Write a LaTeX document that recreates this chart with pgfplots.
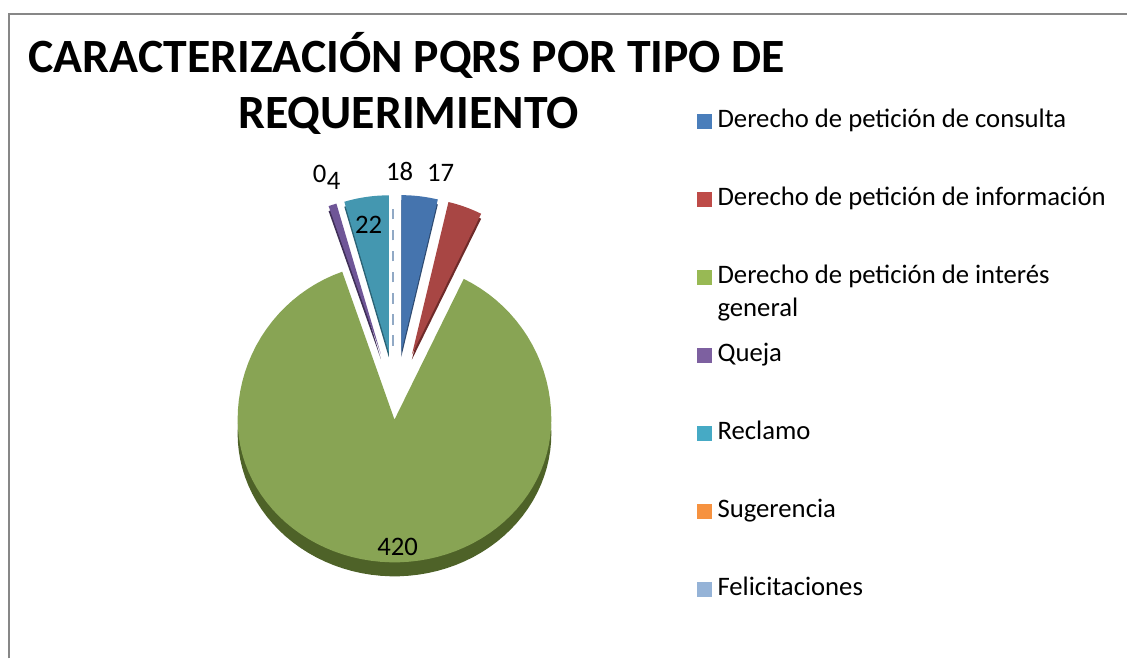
\documentclass[border=0pt]{standalone}
\usepackage{pgfplots}
\pgfplotsset{compat=1.18}
\usepackage{pgfplotstable}
\usepackage{fontspec}
\setmainfont{Carlito}

\definecolor{lBlue}{HTML}{4A7EBB}
\definecolor{lRed}{HTML}{BE4B48}
\definecolor{lGreen}{HTML}{98B954}
\definecolor{lPurple}{HTML}{7D60A0}
\definecolor{lAqua}{HTML}{46AAC5}
\definecolor{lOrange}{HTML}{F69240}
\definecolor{lLight}{HTML}{95B3D7}
\definecolor{fBlue}{HTML}{4574AE}
\definecolor{fRed}{HTML}{A84644}
\definecolor{fGreen}{HTML}{88A454}
\definecolor{fPurple}{HTML}{6F5697}
\definecolor{fAqua}{HTML}{4497B0}
\definecolor{sBlue}{HTML}{2E4A70}
\definecolor{sRed}{HTML}{6E2B2A}
\definecolor{sGreen}{HTML}{4E6228}
\definecolor{sPurple}{HTML}{3F2F57}
\definecolor{sAqua}{HTML}{2B6274}
\definecolor{frameGray}{HTML}{878787}

\pgfplotstableread{
cat value
1 18
2 17
3 420
4 4
5 22
6 0
7 0
}\piedata

% start angle, end angle, explode, colour, downward shift
\newcommand\pieslice[5]{%
  \pgfmathsetmacro\pmid{(#1+#2)/2}%
  \pgfmathsetmacro\pcx{396+#3*sin(\pmid)}%
  \pgfmathsetmacro\pcy{400-#3*cos(\pmid)+#5}%
  \edef\pietemp{\noexpand\addplot[fill=#4,draw=none,forget plot,domain=#1:#2,samples=90,variable=\noexpand\t]
    ({\pcx+157*sin(\noexpand\t)},{\pcy-157*cos(\noexpand\t)*((cos(\noexpand\t)>0)?1:0.91)}) -- (axis cs:\pcx,\pcy) -- cycle;}%
  \pietemp}

\begin{document}
\begin{tikzpicture}
\pgfplotstablegetelem{0}{value}\of\piedata \edef\vA{\pgfplotsretval}
\pgfplotstablegetelem{1}{value}\of\piedata \edef\vB{\pgfplotsretval}
\pgfplotstablegetelem{2}{value}\of\piedata \edef\vC{\pgfplotsretval}
\pgfplotstablegetelem{3}{value}\of\piedata \edef\vD{\pgfplotsretval}
\pgfplotstablegetelem{4}{value}\of\piedata \edef\vE{\pgfplotsretval}
\pgfplotstablegetelem{5}{value}\of\piedata \edef\vF{\pgfplotsretval}
\pgfplotstablegetelem{6}{value}\of\piedata \edef\vG{\pgfplotsretval}
\pgfmathsetmacro\tot{\vA+\vB+\vC+\vD+\vE+\vF+\vG}
\pgfmathsetmacro\bA{0}
\pgfmathsetmacro\bB{\vA/\tot*360}
\pgfmathsetmacro\bC{(\vA+\vB)/\tot*360}
\pgfmathsetmacro\bD{(\vA+\vB+\vC)/\tot*360}
\pgfmathsetmacro\bE{(\vA+\vB+\vC+\vD)/\tot*360}
\pgfmathsetmacro\bF{(\vA+\vB+\vC+\vD+\vE)/\tot*360}
\begin{axis}[
  width=11.28cm, height=6.59cm, scale only axis,
  xmin=0, xmax=1128, ymin=0, ymax=659, y dir=reverse,
  axis lines=none, clip=false,
  legend image code/.code={\fill[#1,draw=none] (0cm,-0.075cm) rectangle (0.15cm,0.075cm);},
  legend cell align=left,
  legend style={at={(axis cs:697,110)}, anchor=north west, draw=none, fill=none,
    inner sep=0pt, row sep=0.56cm, column sep=0.055cm,
    nodes={inner sep=0pt, text height=0.17cm, text depth=0.05cm},
    font=\fontsize{7.6}{9}\selectfont},
]
\path (axis cs:0,0) rectangle (axis cs:1128,659);
% sides (3D depth)
\pieslice{\bC}{\bD}{20}{sGreen}{14}
\pieslice{\bC}{\bD}{20}{fGreen}{0}
\pieslice{\bA}{\bB}{48}{sBlue}{5}
\pieslice{\bB}{\bC}{48}{sRed}{5}
\pieslice{\bD}{\bE}{48}{sPurple}{5}
\pieslice{\bE}{\bF}{48}{sAqua}{5}
\pieslice{\bA}{\bB}{48}{fBlue}{0}
\pieslice{\bB}{\bC}{48}{fRed}{0}
\pieslice{\bD}{\bE}{48}{fPurple}{0}
\pieslice{\bE}{\bF}{48}{fAqua}{0}
% zero-size slices (Sugerencia, Felicitaciones) drawn as a dashed edge
\pgfmathsetmacro\zx{396+48*sin(\bF)-3}
\pgfmathsetmacro\zy{400-48*cos(\bF)-6}
\pgfmathsetmacro\zxx{\zx+157*sin(\bF)}
\pgfmathsetmacro\zyy{\zy-157*cos(\bF)+12}
\edef\pietemp{\noexpand\addplot[draw=lLight!80!gray, dashed, line width=0.6pt, forget plot] coordinates {(\zx,\zy) (\zxx,\zyy)};}
\pietemp

\addlegendimage{fill=lBlue}\addlegendentry{Derecho de petición de consulta}
\addlegendimage{fill=lRed}\addlegendentry{Derecho de petición de información}
\addlegendimage{fill=lGreen}\addlegendentry{\makebox[0pt][l]{\smash{\raisebox{-0.33cm}{general}}}Derecho de petición de interés}
\addlegendimage{fill=lPurple}\addlegendentry{Queja}
\addlegendimage{fill=lAqua}\addlegendentry{Reclamo}
\addlegendimage{fill=lOrange}\addlegendentry{Sugerencia}
\addlegendimage{fill=lLight}\addlegendentry{Felicitaciones}

% data labels
\begin{scope}[every node/.style={font=\fontsize{7.6}{9}\selectfont, inner sep=0pt}]
\node at (axis cs:320,174) {0};
\node at (axis cs:334,181) {4};
\node at (axis cs:400,172) {18};
\node at (axis cs:441,173) {17};
\node at (axis cs:369,225) {22};
\node at (axis cs:398,547) {420};
\end{scope}

% title
\node[anchor=base west, inner sep=0pt, font=\bfseries\fontsize{13.6}{15}\selectfont] at (axis cs:28,73) {CARACTERIZACIÓN PQRS POR TIPO DE};
\node[anchor=base, inner sep=0pt, font=\bfseries\fontsize{13.6}{15}\selectfont] at (axis cs:409,129) {REQUERIMIENTO};

% chart frame
\draw[frameGray, line width=0.02cm] (axis cs:9,659) -- (axis cs:9,14) -- (axis cs:1128,14);
\end{axis}
\end{tikzpicture}
\end{document}
